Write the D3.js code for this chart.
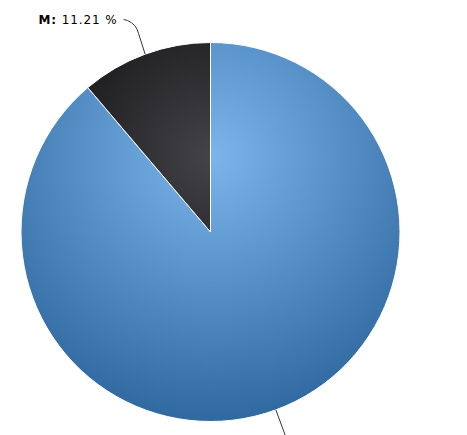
<!DOCTYPE html>
<html>
<head>
<meta charset="utf-8">
<script src="https://cdn.jsdelivr.net/npm/d3@7"></script>
<style>
  html, body { margin: 0; padding: 0; background: #fff; }
  svg { display: block; }
</style>
</head>
<body>
<svg id="chart" width="467" height="435"></svg>
<script>
// ---- data ----
const categories = ["F", "M"];
const values = [88.79, 11.21];
const baseColors = ["#7cb5ec", "#434348"];
const showLabel = [false, true];

const W = 467, H = 435;
const cx = 210.5, cy = 232, R = 189.5;

const svg = d3.select("#chart");
const defs = svg.append("defs");

baseColors.forEach((c, i) => {
  const base = d3.rgb(c);
  const dark = d3.rgb(Math.max(0, base.r - 76), Math.max(0, base.g - 76), Math.max(0, base.b - 76));
  const g = defs.append("radialGradient")
    .attr("id", "grad" + i)
    .attr("gradientUnits", "userSpaceOnUse")
    .attr("cx", 0).attr("cy", -R + 0.3 * 2 * R)
    .attr("r", 0.7 * 2 * R);
  g.append("stop").attr("offset", "0%").attr("stop-color", base.formatHex());
  g.append("stop").attr("offset", "100%").attr("stop-color", dark.formatHex());
});

const data = categories.map((c, i) => ({ name: c, value: values[i], idx: i }));
const pie = d3.pie().value(d => d.value).sort(null);
const arcs = pie(data);
const arc = d3.arc().innerRadius(0).outerRadius(R);

const gPie = svg.append("g").attr("transform", `translate(${cx},${cy})`);
gPie.selectAll("path.slice")
  .data(arcs)
  .join("path")
  .attr("class", "slice")
  .attr("d", arc)
  .attr("fill", d => `url(#grad${d.data.idx})`)
  .attr("stroke", "#ffffff")
  .attr("stroke-width", 1)
  .attr("stroke-linejoin", "round");

// connectors & labels
const total = d3.sum(values);
arcs.forEach(a => {
  const mid = (a.startAngle + a.endAngle) / 2;
  const sx = Math.sin(mid), sy = -Math.cos(mid);
  const edge = [sx * R, sy * R];
  if (!showLabel[a.data.idx]) {
    const far = [sx * (R + 40), sy * (R + 40)];
    gPie.append("path")
      .attr("d", d3.line()([edge, far]))
      .attr("fill", "none").attr("stroke", "#333").attr("stroke-width", 1);
    return;
  }
  const bend = [sx * (R + 22), sy * (R + 22)];
  const left = sx < 0;
  const end = [bend[0] + (left ? -14 : 14), bend[1] - 14];
  const p = d3.path();
  p.moveTo(end[0], end[1]);
  p.lineTo(end[0] + (left ? 4 : -4), end[1] + 1);
  p.quadraticCurveTo(bend[0] - (left ? 1 : -1), bend[1] - 9, bend[0] + 1, bend[1]);
  p.lineTo(edge[0], edge[1]);
  gPie.append("path")
    .attr("d", p.toString())
    .attr("fill", "none").attr("stroke", "#333").attr("stroke-width", 1);
  const pct = (a.data.value / total * 100).toFixed(2);
  const t = gPie.append("text")
    .attr("x", end[0] - 6)
    .attr("y", end[1] + 5)
    .attr("text-anchor", left ? "end" : "start")
    .attr("font-family", "'DejaVu Sans', Verdana, sans-serif")
    .attr("font-size", 12)
    .attr("letter-spacing", 0.9)
    .attr("fill", "#000");
  t.append("tspan").attr("font-weight", "bold").text(a.data.name + ":");
  t.append("tspan").text(" " + pct + " %");
});
</script>
</body>
</html>
